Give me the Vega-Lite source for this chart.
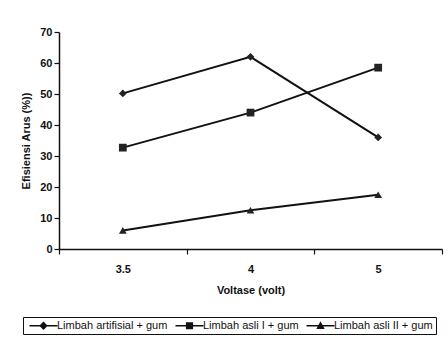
{
  "$schema": "https://vega.github.io/schema/vega-lite/v6.json",
  "width": 383,
  "height": 217,
  "autosize": {"type": "none"},
  "padding": {"left": 59, "top": 32, "right": 6, "bottom": 96},
  "background": "white",
  "config": {
    "view": {"stroke": null},
    "font": "Liberation Sans",
    "axis": {
      "domainColor": "#111",
      "domainWidth": 1.5,
      "tickColor": "#111",
      "tickWidth": 1.2,
      "grid": false,
      "labelFont": "Liberation Sans",
      "labelFontWeight": "bold",
      "labelFontSize": 11,
      "labelColor": "#111",
      "titleFont": "Liberation Sans",
      "titleFontWeight": "bold",
      "titleFontSize": 11,
      "titleColor": "#111"
    }
  },
  "data": {
    "values": [
      {"Voltase": "3.5", "Efisiensi": 50.2, "Series": "Limbah artifisial + gum"},
      {"Voltase": "4", "Efisiensi": 62, "Series": "Limbah artifisial + gum"},
      {"Voltase": "5", "Efisiensi": 36, "Series": "Limbah artifisial + gum"},
      {"Voltase": "3.5", "Efisiensi": 32.7, "Series": "Limbah asli I + gum"},
      {"Voltase": "4", "Efisiensi": 44, "Series": "Limbah asli I + gum"},
      {"Voltase": "5", "Efisiensi": 58.5, "Series": "Limbah asli I + gum"},
      {"Voltase": "3.5", "Efisiensi": 6, "Series": "Limbah asli II + gum"},
      {"Voltase": "4", "Efisiensi": 12.5, "Series": "Limbah asli II + gum"},
      {"Voltase": "5", "Efisiensi": 17.5, "Series": "Limbah asli II + gum"}
    ]
  },
  "encoding": {
    "x": {
      "field": "Voltase",
      "type": "ordinal",
      "sort": ["3.5", "4", "5"],
      "scale": {"type": "band", "paddingInner": 0, "paddingOuter": 0},
      "axis": {
        "title": "Voltase (volt)",
        "labelAngle": 0,
        "tickBand": "extent",
        "tickSize": 5,
        "labelPadding": 9,
        "titlePadding": 10
      }
    },
    "y": {
      "field": "Efisiensi",
      "type": "quantitative",
      "scale": {"domain": [0, 70]},
      "axis": {
        "title": "Efisiensi Arus (%))",
        "values": [0, 10, 20, 30, 40, 50, 60, 70],
        "tickSize": 5,
        "labelPadding": 2,
        "titlePadding": 8
      }
    }
  },
  "layer": [
    {
      "mark": {"type": "line", "color": "#111", "strokeWidth": 2},
      "encoding": {"detail": {"field": "Series"}}
    },
    {
      "mark": {"type": "point", "filled": true, "color": "#222", "opacity": 1, "size": 60},
      "encoding": {
        "shape": {
          "field": "Series",
          "type": "nominal",
          "scale": {"range": ["diamond", "square", "triangle-up"]},
          "legend": null
        }
      }
    },
    {
      "mark": {"type": "point", "filled": true, "color": "#111", "opacity": 0, "size": 36},
      "encoding": {
        "shape": {
          "field": "Series",
          "type": "nominal",
          "scale": {"range": ["M-0.67,-0.25H8.67V0.25H-0.67ZM4,-1.4L5.4,0L4,1.4L2.6,0Z", "M-0.67,-0.25H8.67V0.25H-0.67ZM2.8,-1.2H5.2V1.2H2.8Z", "M-0.67,-0.25H8.67V0.25H-0.67ZM4,-1.5L5.4,1.1L2.6,1.1Z"]},
          "legend": {
            "title": null,
            "orient": "none",
            "legendX": -36,
            "legendY": 285,
            "direction": "horizontal",
            "strokeColor": "#111",
            "padding": 3,
            "labelFont": "Liberation Sans",
            "labelFontSize": 11,
            "labelColor": "#111",
            "symbolSize": 36,
            "symbolOpacity": 1,
            "symbolFillColor": "#111",
            "symbolStrokeColor": "#111",
            "symbolStrokeWidth": 0,
            "labelOffset": 20,
            "columnPadding": 4
          }
        }
      }
    }
  ],
  "resolve": {"scale": {"shape": "independent"}}
}
